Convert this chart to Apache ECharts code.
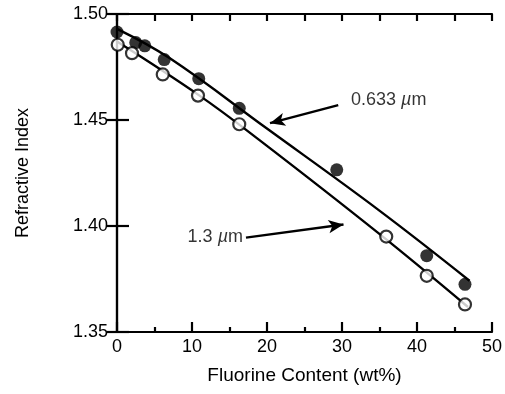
<!DOCTYPE html>
<html><head><meta charset="utf-8">
<script src="https://cdn.jsdelivr.net/npm/echarts@6/dist/echarts.min.js"></script>
<style>html,body{margin:0;padding:0;background:#fff}#c{width:505px;height:394px}</style>
</head><body><div id="c"></div>
<script>
// Data
const x633 = [0, 2.5, 3.7, 6.3, 10.9, 16.3, 29.3, 41.3, 46.4];
const y633 = [1.4915, 1.4865, 1.4850, 1.4785, 1.4695, 1.4555, 1.4265, 1.3860, 1.3725];
const x13 = [0.1, 2.0, 6.1, 10.8, 16.3, 35.9, 41.3, 46.4];
const y13 = [1.4855, 1.4815, 1.4715, 1.4615, 1.4480, 1.3950, 1.3765, 1.3630];
// fitted curves drawn in the figure
const fitX633 = [0, 7.0, 19.9, 34.9, 47.0];
const fitY633 = [1.4930, 1.4792, 1.4462, 1.4075, 1.3742];
const fitX13 = [0, 11.0, 19.0, 34.9, 46.8];
const fitY13 = [1.4870, 1.4615, 1.4405, 1.3965, 1.3618];
// annotations
const label633 = '0.633 {i|µ}m', label13 = '1.3 {i|µ}m';
const arrow633 = [[29.5, 1.4570], [20.4, 1.4485]];
const arrow13 = [[17.2, 1.3945], [30.2, 1.4007]];
const xTicks = [0, 10, 20, 30, 40, 50];
const yTicks = [1.35, 1.40, 1.45, 1.50];

const zip = (a, b) => a.map((v, i) => [v, b[i]]);
const FONT = 'Liberation Sans, Arial, sans-serif';
const chart = echarts.init(document.getElementById('c'));
const axisLine = {show: true, lineStyle: {color: '#000', width: 2.2}};
const tickStyle = {color: '#000', width: 2.2};
const richI = {i: {fontStyle: 'italic', fontSize: 18, fontFamily: FONT, color: '#000'}};
chart.setOption({
  animation: false,
  grid: {left: 117, right: 11, top: 14, bottom: 62},
  xAxis: [{
    type: 'value', min: xTicks[0], max: xTicks[xTicks.length - 1], interval: 10,
    axisLine, splitLine: {show: false},
    axisTick: {inside: true, length: 10, lineStyle: tickStyle},
    minorTick: {show: true, splitNumber: 2, length: 5, lineStyle: tickStyle},
    axisLabel: {color: '#000', fontSize: 18, fontFamily: FONT, margin: 6},
    name: 'Fluorine Content (wt%)', nameLocation: 'middle', nameGap: 34,
    nameTextStyle: {color: '#000', fontSize: 19, fontFamily: FONT}
  }, {
    type: 'value', position: 'top', min: 0, max: 50, interval: 5,
    axisLine, splitLine: {show: false},
    axisTick: {inside: true, length: 7, lineStyle: tickStyle},
    axisLabel: {show: false}
  }],
  yAxis: [{
    type: 'value', min: yTicks[0], max: yTicks[yTicks.length - 1], interval: 0.05,
    axisLine, splitLine: {show: false},
    axisTick: {inside: true, length: 12, lineStyle: tickStyle},
    axisLabel: {color: '#000', fontSize: 18, fontFamily: FONT, margin: 9,
      formatter: v => v.toFixed(2)},
    name: 'Refractive Index', nameLocation: 'middle', nameGap: 85,
    nameTextStyle: {color: '#000', fontSize: 18, fontFamily: FONT}
  }, {
    type: 'value', position: 'right', min: 1.35, max: 1.50, interval: 0.05,
    axisLine, splitLine: {show: false},
    axisTick: {inside: true, length: 10, lineStyle: tickStyle},
    axisLabel: {show: false}
  }],
  series: [
    {type: 'line', data: zip(fitX633, fitY633), smooth: 0.4, symbol: 'none',
      lineStyle: {color: '#000', width: 2.4}, z: 2,
      markLine: {silent: true, symbol: ['none', 'arrow'], symbolSize: [10, 15],
        lineStyle: {color: '#000', width: 2.4, type: 'solid'},
        label: {show: false},
        data: [[{coord: arrow633[0]}, {coord: arrow633[1]}], [{coord: arrow13[0]}, {coord: arrow13[1]}]]}},
    {type: 'line', data: zip(fitX13, fitY13), smooth: 0.4, symbol: 'none',
      lineStyle: {color: '#000', width: 2.4}, z: 2},
    {type: 'scatter', data: zip(x633, y633), symbol: 'circle', symbolSize: 13,
      itemStyle: {color: '#000'}, z: 3},
    {type: 'scatter', data: zip(x13, y13), symbol: 'circle', symbolSize: 12,
      itemStyle: {color: '#fff', borderColor: '#000', borderWidth: 2.2}, z: 4},
    {type: 'scatter', symbolSize: 0, z: 5,
      data: [
        {value: [31.2, 1.4595], label: {show: true, position: 'right', distance: 0,
          formatter: label633, color: '#000', fontSize: 18, fontFamily: FONT, rich: richI}},
        {value: [16.8, 1.3950], label: {show: true, position: 'left', distance: 0,
          formatter: label13, color: '#000', fontSize: 18, fontFamily: FONT, rich: richI}}
      ]}
  ]
});
</script></body></html>
